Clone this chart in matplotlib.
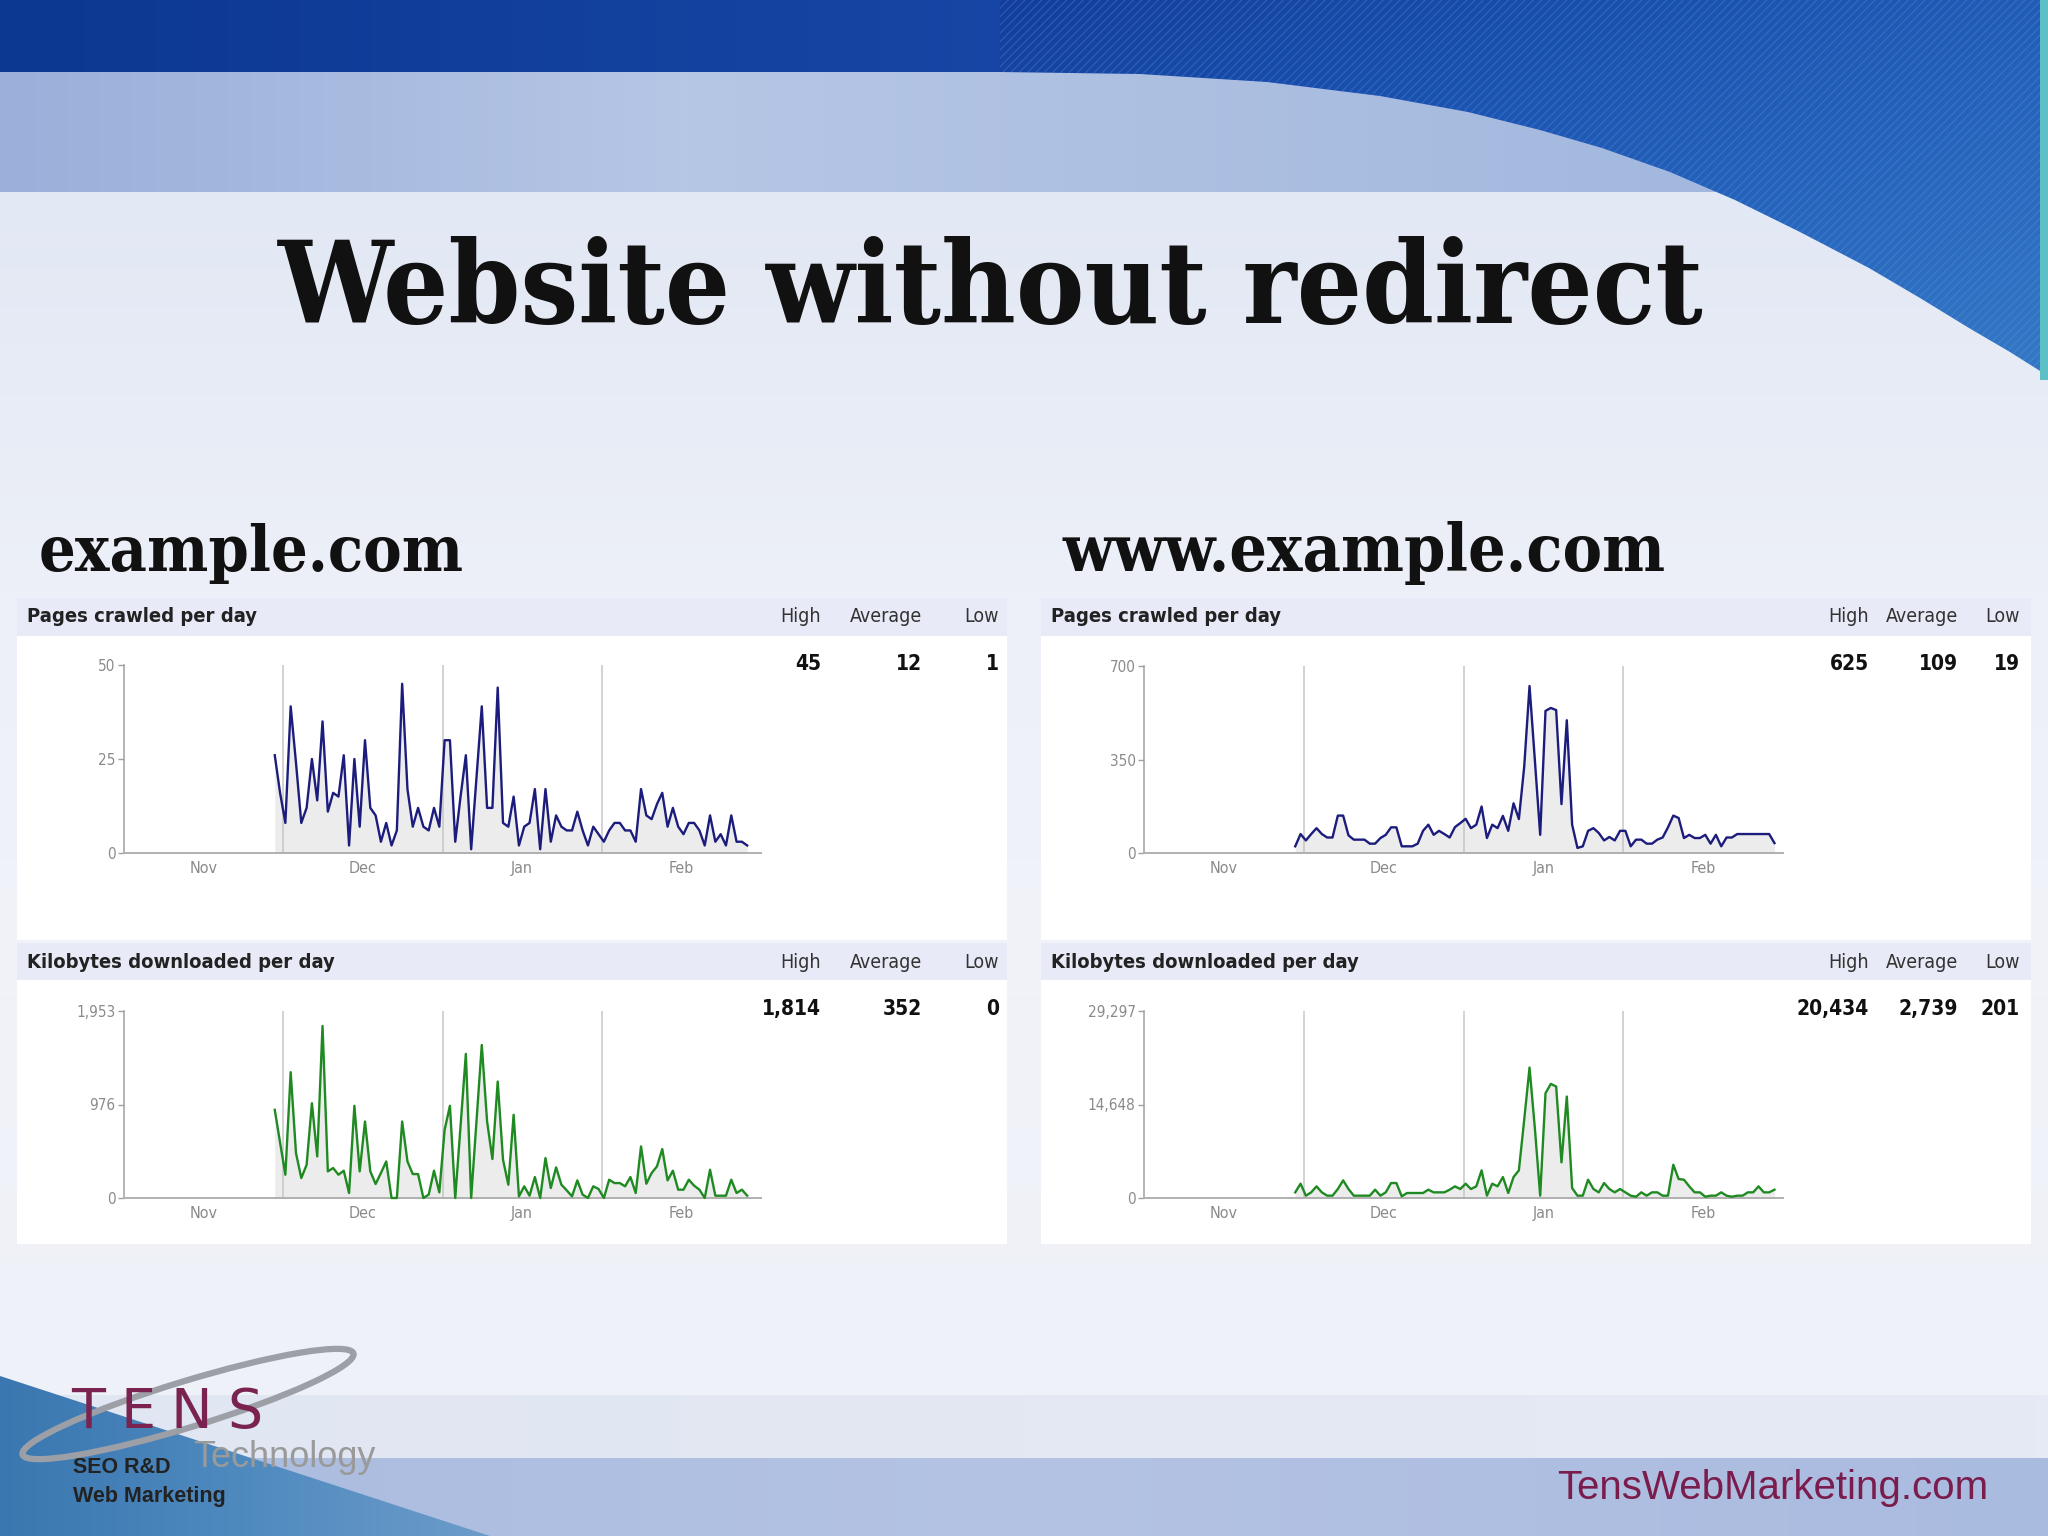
import numpy as np
import matplotlib
matplotlib.use('Agg')
import matplotlib.pyplot as plt
from matplotlib import font_manager as fm
from matplotlib.patches import Polygon, Ellipse, Rectangle
from matplotlib.colors import LinearSegmentedColormap

# ---- data (one value per day) ----
months = ['Nov', 'Dec', 'Jan', 'Feb']
col_heads = ['High', 'Average', 'Low']

pages_a = [26, 16, 8, 39, 24, 8, 12, 25, 14, 35, 11, 16, 15, 26, 2, 25, 7, 30, 12, 10,
           3, 8, 2, 6, 45, 17, 7, 12, 7, 6, 12, 7, 30, 30, 3, 15, 26, 1, 20, 39,
           12, 12, 44, 8, 7, 15, 2, 7, 8, 17, 1, 17, 3, 10, 7, 6, 6, 11, 6, 2,
           7, 5, 3, 6, 8, 8, 6, 6, 3, 17, 10, 9, 13, 16, 7, 12, 7, 5, 8, 8,
           6, 2, 10, 3, 5, 2, 10, 3, 3, 2]
kb_a = [921, 580, 243, 1314, 469, 208, 347, 990, 434, 1797, 278, 313, 243, 285, 52, 963, 278, 799, 278, 146,
        261, 382, 0, 0, 799, 382, 250, 250, 0, 35, 285, 59, 712, 963, 0, 750, 1505, 0, 800, 1598,
        799, 407, 1216, 400, 139, 869, 17, 122, 24, 219, 0, 417, 104, 320, 139, 80, 17, 184, 35, 0,
        122, 94, 0, 191, 156, 156, 122, 219, 52, 539, 149, 261, 330, 511, 184, 285, 87, 87, 191, 129,
        87, 0, 295, 24, 24, 24, 191, 52, 87, 24]
pages_b = [25, 71, 47, 71, 93, 71, 58, 58, 140, 140, 66, 50, 50, 50, 35, 35, 56, 68, 96, 96,
           25, 25, 25, 35, 83, 106, 68, 83, 71, 58, 97, 112, 128, 93, 106, 174, 56, 106, 93, 139,
           83, 186, 127, 323, 625, 348, 68, 532, 543, 535, 183, 497, 106, 19, 25, 83, 93, 75, 47, 60,
           47, 83, 83, 25, 50, 50, 35, 35, 50, 58, 96, 140, 131, 56, 68, 56, 56, 68, 35, 68,
           25, 58, 58, 71, 71, 71, 71, 71, 71, 71, 37]
kb_b = [886, 2242, 365, 886, 1825, 886, 365, 365, 1408, 2763, 1408, 365, 365, 365, 365, 1303, 365, 886, 2346, 2346,
        261, 782, 782, 782, 782, 1303, 886, 886, 886, 1303, 1825, 1408, 2242, 1408, 1825, 4327, 365, 2242, 1825, 3284,
        782, 3284, 4327, 12250, 20434, 10947, 365, 16421, 17881, 17464, 5578, 15900, 1564, 365, 365, 2867, 1408, 886, 2346, 1408,
        886, 1408, 886, 365, 201, 886, 365, 886, 886, 365, 365, 5213, 2971, 2867, 1825, 886, 886, 201, 365, 365,
        886, 365, 201, 365, 365, 886, 886, 1825, 886, 886, 1303]

stats_pages_a = ['45', '12', '1']
stats_kb_a = ['1,814', '352', '0']
stats_pages_b = ['625', '109', '19']
stats_kb_b = ['20,434', '2,739', '201']
yt_pages_a = ['0', '25', '50']
yt_kb_a = ['0', '976', '1,953']
yt_pages_b = ['0', '350', '700']
yt_kb_b = ['0', '14,648', '29,297']
ymax = {'pa': 50, 'ka': 1953, 'pb': 700, 'kb': 29297}
first_day = 28.4

# ---- fonts ----
entries = fm.fontManager.ttflist
def find_font(name, stretch=None):
    for f in entries:
        if f.name == name and (stretch is None or str(f.stretch) == stretch):
            return True
    return False

if find_font('Liberation Sans Narrow'):
    NARROW = dict(family='Liberation Sans Narrow')
elif find_font('DejaVu Sans Condensed'):
    NARROW = dict(family='DejaVu Sans Condensed')
elif find_font('DejaVu Sans', 'condensed'):
    NARROW = dict(family='DejaVu Sans', fontstretch='condensed')
else:
    NARROW = dict(family='Liberation Sans')
if find_font('DejaVu Serif Condensed'):
    SERIF = dict(family='DejaVu Serif Condensed')
elif find_font('DejaVu Serif', 'condensed'):
    SERIF = dict(family='DejaVu Serif', fontstretch='condensed')
else:
    SERIF = dict(family='DejaVu Serif')

W, H = 2048, 1536
fig = plt.figure(figsize=(20.48, 15.36), dpi=100)
bg = fig.add_axes([0, 0, 1, 1])
bg.set_xlim(0, W)
bg.set_ylim(H, 0)
bg.axis('off')


def grad(x0, x1, y0, y1, colors, vertical=False, clip=None, z=0, diag=False):
    cmap = LinearSegmentedColormap.from_list('g', colors)
    if diag:
        gx, gy = np.meshgrid(np.linspace(0, 1, 200), np.linspace(0, 1, 200))
        arr = (gx + gy) / 2
    else:
        arr = np.linspace(0, 1, 256)
        arr = arr[:, None] if vertical else arr[None, :]
    im = bg.imshow(arr, cmap=cmap, extent=(x0, x1, y1, y0), aspect='auto',
                   origin='upper', zorder=z, interpolation='bicubic')
    if clip is not None:
        im.set_clip_path(clip)
    return im


# background bands
grad(0, W, 0, 72, ['#0c3891', '#1746a6', '#1b4fae'], z=0)
grad(0, W, 72, 192, ['#9ab0da', '#b6c6e5', '#a9bde0', '#9db3dc'], z=0)
grad(0, W, 192, 1395, ['#e2e8f4', '#edf0f8', '#f1f3f9', '#eef1f7'], vertical=True, z=0)
grad(0, W, 1395, 1458, ['#e0e6f2', '#e6eaf4'], z=0)
grad(0, W, 1458, W, ['#a9bbdf', '#b4c3e3', '#aabbe0'], z=0)
bg.set_xlim(0, W)
bg.set_ylim(H, 0)

# top-right swoosh
sw = [(1000, 0), (1000, 72), (1140, 74), (1267, 82), (1380, 96), (1468, 112), (1540, 130),
      (1602, 148), (1670, 172), (1735, 200), (1800, 232), (1869, 268), (1920, 298),
      (1969, 328), (2010, 352), (2048, 376), (2048, 0)]
swp = Polygon(sw, closed=True, facecolor='none', edgecolor='none', zorder=1)
bg.add_patch(swp)
grad(1000, W, 0, 380, ['#123e9c', '#1a52b0', '#2766bd', '#3479c5'], clip=swp, z=1, diag=True)
bg.add_patch(Polygon(sw, closed=True, facecolor='none', edgecolor=(0.45, 0.62, 0.9, 0.25),
                     hatch='////', lw=0, zorder=2))
bg.add_patch(Rectangle((2040, 0), 8, 380, facecolor='#5cc0c6', lw=0, zorder=2))

# bottom-left wedge
wedge = Polygon([(0, 1376), (490, 1536), (0, 1536)], closed=True, facecolor='none',
                edgecolor='none', zorder=1)
bg.add_patch(wedge)
grad(0, 490, 1376, 1536, ['#3a77b0', '#4f8abf', '#6c9cc9'], clip=wedge, z=1)

# ---- slide texts ----
def fit(t, target):
    fig.canvas.draw()
    w = t.get_window_extent().width
    t.set_fontsize(t.get_fontsize() * target / w)

title = bg.text(991, 323, 'Website without redirect', ha='center', va='baseline',
                fontsize=70, fontweight='bold', color='#111111', zorder=5, **SERIF)
fit(title, 1427)
s1 = bg.text(39, 571, 'example.com', ha='left', va='baseline', fontsize=48,
             fontweight='bold', color='#111111', zorder=5, **SERIF)
fit(s1, 425)
s2 = bg.text(1062, 571, 'www.example.com', ha='left', va='baseline', fontsize=48,
             fontweight='bold', color='#111111', zorder=5, **SERIF)
fit(s2, 603)

# ---- panels ----
panels = [(17, 1007), (1041, 2031)]
for (l, r) in panels:
    bg.add_patch(Rectangle((l, 598), r - l, 38, facecolor='#e8ebf7', lw=0, zorder=3))
    bg.add_patch(Rectangle((l, 636), r - l, 304, facecolor='#ffffff', lw=0, zorder=3))
    bg.add_patch(Rectangle((l, 943), r - l, 37, facecolor='#e8ebf7', lw=0, zorder=3))
    bg.add_patch(Rectangle((l, 980), r - l, 264, facecolor='#ffffff', lw=0, zorder=3))

head_x = [[821, 922, 999], [1869, 1958, 2020]]
blocks = [
    (0, 617, 664, 'Pages crawled per day', stats_pages_a),
    (0, 962, 1009, 'Kilobytes downloaded per day', stats_kb_a),
    (1, 617, 664, 'Pages crawled per day', stats_pages_b),
    (1, 962, 1009, 'Kilobytes downloaded per day', stats_kb_b),
]
for p, yh, yv, name, stats in blocks:
    bg.text(panels[p][0] + 10, yh, name, ha='left', va='center', fontsize=14.5,
            fontweight='bold', color='#222222', zorder=5, **NARROW)
    for xr, head, val in zip(head_x[p], col_heads, stats):
        bg.text(xr, yh, head, ha='right', va='center', fontsize=14, color='#333333',
                zorder=5, **NARROW)
        bg.text(xr, yv, val, ha='right', va='center', fontsize=15, fontweight='bold',
                color='#111111', zorder=5, **NARROW)


def chart(l, r, top, bot, vals, ylim, yt, color):
    ax = fig.add_axes([l / W, 1 - bot / H, (r - l) / W, (bot - top) / H], zorder=6)
    ax.patch.set_alpha(0)
    days = first_day + np.arange(len(vals))
    ax.set_xlim(0, 120)
    ax.set_ylim(0, ylim)
    ax.fill_between(days, vals, 0, color='#ececec', lw=0, zorder=1)
    for g in (30, 60, 90):
        ax.axvline(g, color='#c6c6c6', lw=1.1, zorder=2)
    ax.plot(days, vals, color=color, lw=1.7, zorder=3, clip_on=False)
    ax.set_yticks([0, ylim / 2, ylim])
    ax.set_yticklabels(yt)
    ax.set_xticks([15, 45, 75, 105])
    ax.set_xticklabels(months)
    ax.tick_params(axis='x', length=0, pad=6, labelsize=11.5, labelcolor='#8a8a8a')
    ax.tick_params(axis='y', length=4, width=1, color='#a0a0a0', pad=2, labelsize=11,
                   labelcolor='#8a8a8a')
    for lab in ax.get_xticklabels() + ax.get_yticklabels():
        lab.set_family(NARROW['family'])
        if 'fontstretch' in NARROW:
            lab.set_stretch(NARROW['fontstretch'])
    ax.spines['top'].set_visible(False)
    ax.spines['right'].set_visible(False)
    ax.spines['left'].set_color('#a0a0a0')
    ax.spines['bottom'].set_color('#b0b0b0')
    ax.spines['left'].set_linewidth(1.1)
    ax.spines['bottom'].set_linewidth(1.4)
    return ax


chart(124, 761, 665, 853, pages_a, ymax['pa'], yt_pages_a, '#1c1c7c')
chart(124, 761, 1011, 1198, kb_a, ymax['ka'], yt_kb_a, '#1f8a22')
chart(1144, 1783, 666, 853, pages_b, ymax['pb'], yt_pages_b, '#1c1c7c')
chart(1144, 1783, 1011, 1198, kb_b, ymax['kb'], yt_kb_b, '#1f8a22')

# ---- logo and footer ----
bg.add_patch(Ellipse((188, 1404), 346, 46, angle=-17, fill=False, edgecolor='#9ca0a6',
                     lw=4.5, zorder=5))
for ch, xc in zip('TENS', (88, 138, 191, 245)):
    bg.text(xc, 1428, ch, ha='center', va='baseline', fontsize=40, color='#7b2350',
            family='DejaVu Sans', zorder=6)
bg.text(193, 1467, 'Technology', ha='left', va='baseline', fontsize=26, color='#9a9a9a',
        family='Liberation Sans', zorder=6)
bg.text(73, 1473, 'SEO R&D', ha='left', va='baseline', fontsize=15.5, fontweight='bold',
        color='#222222', family='Liberation Sans', zorder=6)
bg.text(73, 1502, 'Web Marketing', ha='left', va='baseline', fontsize=15.5, fontweight='bold',
        color='#222222', family='Liberation Sans', zorder=6)
foot = bg.text(1557, 1499, 'TensWebMarketing.com', ha='left', va='baseline', fontsize=28,
               color='#7a1d4c', family='Liberation Sans', zorder=6)
fit(foot, 431)

fig.savefig('out.png', dpi=100)
